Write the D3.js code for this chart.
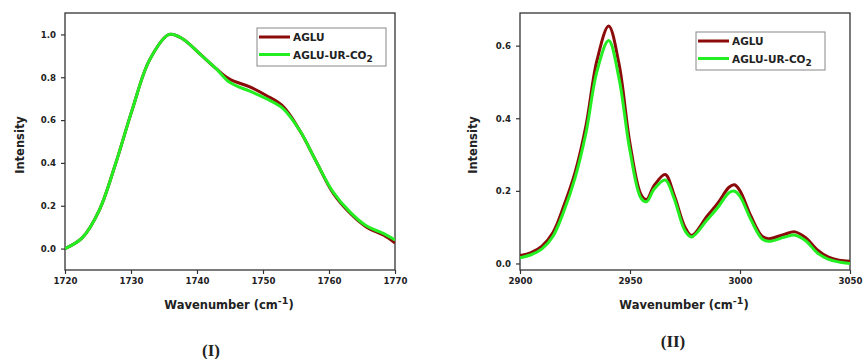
<!DOCTYPE html>
<html>
<head>
<meta charset="utf-8">
<script src="https://cdn.jsdelivr.net/npm/d3@7"></script>
<style>
  body { margin: 0; background: #fff; }
  text { font-family: "DejaVu Sans", Verdana, sans-serif; font-weight: bold; fill: #222; }
</style>
</head>
<body>
<div id="chart"></div>
<script>
// Panel I: C=O region
const waveI = [1720, 1722.6, 1725.2, 1727.7, 1730.2, 1732.8, 1735.8, 1737.8, 1740.4, 1742.9, 1745, 1748, 1750.5, 1753, 1755.6, 1758, 1760.6, 1763.2, 1765.7, 1768.3, 1770];
const agluI = [0.0, 0.05, 0.18, 0.40, 0.65, 0.88, 1.0, 0.98, 0.91, 0.84, 0.79, 0.755, 0.715, 0.665, 0.55, 0.41, 0.26, 0.165, 0.10, 0.062, 0.026];
const co2I = [0.0, 0.05, 0.18, 0.40, 0.65, 0.88, 1.0, 0.98, 0.91, 0.84, 0.775, 0.735, 0.70, 0.655, 0.55, 0.41, 0.265, 0.17, 0.105, 0.07, 0.04];
const xTicksI = [1720, 1730, 1740, 1750, 1760, 1770];
const yTicksI = [0.0, 0.2, 0.4, 0.6, 0.8, 1.0];

// Panel II: C-H region
const waveII = [2900, 2905, 2910, 2915, 2920, 2925, 2930, 2935, 2940.3, 2945, 2950, 2955, 2957.5, 2961, 2966, 2970, 2975, 2978, 2985, 2990, 2995, 2997.5, 3000, 3005, 3010, 3013, 3020, 3025, 3030, 3035, 3040, 3045, 3050];
const agluII = [0.022, 0.03, 0.048, 0.085, 0.16, 0.25, 0.38, 0.56, 0.654, 0.55, 0.33, 0.19, 0.176, 0.215, 0.245, 0.19, 0.10, 0.077, 0.13, 0.167, 0.21, 0.217, 0.20, 0.13, 0.075, 0.068, 0.08, 0.087, 0.07, 0.038, 0.018, 0.009, 0.006];
const co2II = [0.016, 0.024, 0.04, 0.075, 0.145, 0.235, 0.36, 0.53, 0.614, 0.51, 0.31, 0.18, 0.17, 0.205, 0.23, 0.18, 0.09, 0.073, 0.12, 0.155, 0.195, 0.199, 0.185, 0.12, 0.068, 0.061, 0.072, 0.078, 0.062, 0.03, 0.012, 0.004, 0.0];
const xTicksII = [2900, 2950, 3000, 3050];
const yTicksII = [0.0, 0.2, 0.4, 0.6];

const seriesNames = ['AGLU', 'AGLU-UR-CO'];
const colors = ['#8b0a0a', '#22ee22'];

const svg = d3.select('#chart')
    .append('svg')
    .attr('width', 863)
    .attr('height', 359);

function drawPanel(opt) {
    const width = 330, height = 257;
    const g = svg.append('g')
        .attr('transform', `translate(${opt.left}, ${opt.top})`);

    const xScale = d3.scaleLinear().domain(opt.xDomain).range([0, width]);
    const yScale = d3.scaleLinear().domain(opt.yDomain).range([height, 0]);

    // axes
    const xAxis = d3.axisBottom(xScale).tickValues(opt.xTicks).tickSize(4).tickPadding(4).tickFormat(d3.format('d'));
    const yAxis = d3.axisLeft(yScale).tickValues(opt.yTicks).tickSize(4).tickPadding(5).tickFormat(d3.format('.1f'));

    const gx = g.append('g').attr('transform', `translate(0, ${height})`).call(xAxis);
    const gy = g.append('g').call(yAxis);
    [gx, gy].forEach(a => {
        a.select('.domain').remove();
        a.selectAll('.tick line').attr('stroke', '#333').attr('stroke-width', 1.2);
        a.selectAll('.tick text').style('font-size', '8.6px').style('font-family', '"DejaVu Sans", sans-serif').style('font-weight', 'bold').attr('fill', '#222');
    });

    // frame
    g.append('rect')
        .attr('width', width)
        .attr('height', height)
        .attr('fill', 'none')
        .attr('stroke', '#333')
        .attr('stroke-width', 1.3);

    // lines
    const line = d3.line()
        .x(d => xScale(d[0]))
        .y(d => yScale(d[1]))
        .curve(d3.curveCatmullRom.alpha(0.5));

    const clip = 'clip' + opt.id;
    g.append('clipPath').attr('id', clip)
        .append('rect').attr('width', width).attr('height', height);

    opt.series.forEach((s, i) => {
        g.append('path')
            .datum(opt.wave.map((w, j) => [w, s[j]]))
            .attr('clip-path', `url(#${clip})`)
            .attr('fill', 'none')
            .attr('stroke', colors[i])
            .attr('stroke-width', 3)
            .attr('d', line);
    });

    // axis titles
    const xt = g.append('text')
        .attr('x', width / 2 - 1)
        .attr('y', height + 39)
        .attr('text-anchor', 'middle')
        .style('font-size', '11.5px');
    xt.append('tspan').text('Wavenumber (cm');
    xt.append('tspan').attr('dy', -5).style('font-size', '9.5px').text('-1');
    xt.append('tspan').attr('dy', 5).text(')');

    g.append('text')
        .attr('transform', 'rotate(-90)')
        .attr('x', -opt.yTitleY)
        .attr('y', opt.yTitleX)
        .attr('text-anchor', 'middle')
        .style('font-size', '11.5px')
        .text('Intensity');

    // legend
    const lg = g.append('g').attr('transform', `translate(${opt.legend[0]}, ${opt.legend[1]})`);
    lg.append('rect')
        .attr('width', 129)
        .attr('height', 38)
        .attr('fill', '#fff')
        .attr('stroke', '#888')
        .attr('stroke-width', 1);
    seriesNames.forEach((name, i) => {
        const yy = 9 + i * 17.5;
        lg.append('line')
            .attr('x1', 2).attr('x2', 33)
            .attr('y1', yy).attr('y2', yy)
            .attr('stroke', colors[i])
            .attr('stroke-width', 3);
        const t = lg.append('text')
            .attr('x', 36)
            .attr('y', yy + 4)
            .style('font-size', '10.5px')
            .text(name);
        if (i === 1) {
            t.append('tspan').attr('dy', 3).style('font-size', '9px').text('2');
        }
    });

    // panel label
    svg.append('text')
        .attr('x', opt.labelPos[0])
        .attr('y', opt.labelPos[1])
        .attr('text-anchor', 'middle')
        .style('font-family', '"Liberation Serif", "Times New Roman", serif')
        .style('font-size', '17px')
        .text(opt.label);
}

drawPanel({
    id: 'I', left: 65, top: 13,
    xDomain: [1720, 1770], yDomain: [-0.1, 1.1],
    xTicks: xTicksI, yTicks: yTicksI,
    wave: waveI, series: [agluI, co2I],
    yTitleX: -41, yTitleY: 132,
    legend: [192, 15],
    label: '(I)', labelPos: [211, 356]
});

drawPanel({
    id: 'II', left: 520, top: 13,
    xDomain: [2900, 3050], yDomain: [-0.018, 0.69],
    xTicks: xTicksII, yTicks: yTicksII,
    wave: waveII, series: [agluII, co2II],
    yTitleX: -43, yTitleY: 132,
    legend: [176, 19],
    label: '(II)', labelPos: [673, 347]
});
</script>
</body>
</html>
